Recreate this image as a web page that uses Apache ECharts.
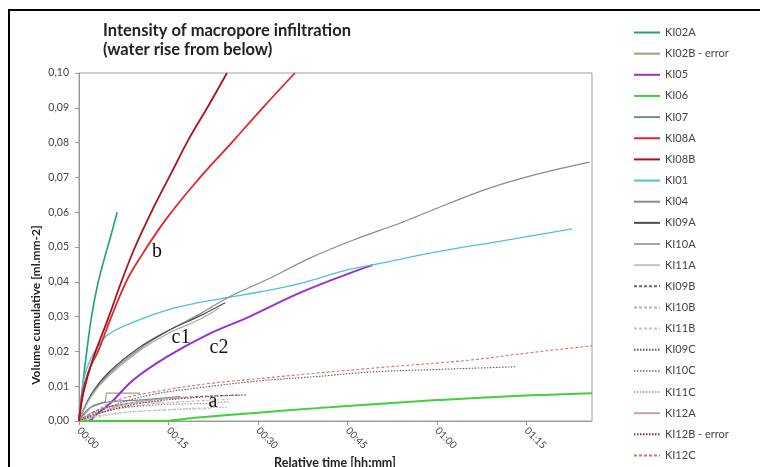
<!DOCTYPE html>
<html><head><meta charset="utf-8">
<script src="https://cdn.jsdelivr.net/npm/echarts@6/dist/echarts.min.js"></script>
<style>html,body{margin:0;padding:0;background:#fff}#c{width:760px;height:467px}</style>
</head><body><div id="c"></div>
<script>
// time in minutes, volume in ml.mm-2
const xTickLabels = ['00:00','00:15','00:30','00:45','01:00','01:15'];
const seriesNames = ['KI02A','KI02B - error','KI05','KI06','KI07','KI08A','KI08B','KI01','KI04','KI09A','KI10A','KI11A','KI09B','KI10B','KI11B','KI09C','KI10C','KI11C','KI12A','KI12B - error','KI12C'];

const KI02A = [[0,0],[0.6,0.010],[1.3,0.020],[2.1,0.030],[3.1,0.039],[4.3,0.047],[5.3,0.053],[6.4,0.060]];
const KI02B = [[0,0],[1,0.002],[2,0.004],[4.4,0.0055],[4.6,0.008],[10.2,0.008]];
const KI05 = [[0,0],[1.5,0],[3,0.002],[5.2,0.005],[9.1,0.0118],[14.7,0.0184],[21.4,0.0247],[28.6,0.030],[37,0.0368],[45.4,0.0425],[49.2,0.0448]];
const KI06 = [[0,0],[13,0],[20,0.001],[30,0.0024],[40,0.0037],[50,0.0049],[60,0.006],[73,0.0072],[86,0.008]];
const KI07 = [[0,0],[2,0.004],[5,0.0055],[10,0.006],[17,0.007]];
const KI08A = [[0,0],[0.5,0.007],[1,0.011],[2,0.016],[3.2,0.020],[5.2,0.029],[7.9,0.040],[9.9,0.046],[14.6,0.058],[20.3,0.070],[25.6,0.080],[30.8,0.090],[36.2,0.100]];
const KI08B = [[0,0],[0.5,0.006],[1,0.010],[2,0.016],[3,0.021],[5,0.030],[7.1,0.040],[9.4,0.050],[12.4,0.061],[15.4,0.071],[18.4,0.081],[21.5,0.090],[24.8,0.100]];
const KI01 = [[0,0],[0.5,0.009],[1,0.0135],[2,0.018],[3,0.021],[5,0.025],[10,0.029],[15,0.032],[20,0.034],[25,0.0355],[30,0.037],[37,0.0395],[45,0.0434],[52,0.0458],[60,0.0486],[70,0.0515],[82.7,0.0552]];
const KI04 = [[0,0],[2,0.007],[5,0.0135],[10,0.0205],[15,0.026],[20,0.0305],[25,0.0355],[32,0.041],[38.7,0.0468],[46,0.052],[54.3,0.0572],[62,0.0625],[69.3,0.0672],[77,0.071],[85.6,0.0744]];
const KI09A = [[0,0],[2,0.0075],[5,0.014],[10,0.021],[15,0.026],[20,0.030],[24.5,0.034]];
const KI10A = [[0,0],[2,0.007],[5,0.013],[10,0.020],[15,0.0252],[20,0.029],[23.5,0.0325]];
const KI11A = [[0,0],[3,0.003],[8,0.005],[14,0.0055]];
const KI09B = [[0,0],[3,0.003],[8,0.005],[15,0.0065],[27,0.0075]];
const KI10B = [[0,0],[5,0.003],[10,0.0045],[17,0.0055],[25,0.0062]];
const KI11B = [[0,0],[5,0.002],[12,0.003],[22,0.0035]];
const KI09C = [[0,0],[5,0.004],[12,0.0075],[20,0.0095],[30,0.0115],[40,0.0128],[49,0.0141],[60,0.0148],[73.4,0.0156]];
const KI10C = [[0,0],[5,0.003],[12,0.0045],[20,0.005],[25.3,0.0055]];
const KI11C = [[0,0],[6,0.002],[14,0.0032],[25,0.004]];
const KI12A = [[0,0],[2,0.001],[6,0.004],[12,0.006],[18,0.0068]];
const KI12B = [[0,0],[3,0.002],[10,0.005],[20,0.0068],[28,0.0075]];
const KI12C = [[0,0],[3,0.003],[6.4,0.006],[14.7,0.009],[22,0.0108],[31.5,0.0124],[40,0.0138],[50,0.0153],[65.5,0.0175],[75,0.0195],[86,0.0216]];

const seriesData = [KI02A,KI02B,KI05,KI06,KI07,KI08A,KI08B,KI01,KI04,KI09A,KI10A,KI11A,KI09B,KI10B,KI11B,KI09C,KI10C,KI11C,KI12A,KI12B,KI12C];
const styles = [
  {c:'#1fa36a',w:1.6,t:'solid'},
  {c:'#a39c84',w:1.2,t:'solid',step:true},
  {c:'#9a2fd6',w:2,t:'solid'},
  {c:'#3dd23d',w:2,t:'solid'},
  {c:'#6f8e93',w:1.2,t:'solid'},
  {c:'#e0252b',w:1.8,t:'solid'},
  {c:'#a8121e',w:1.8,t:'solid'},
  {c:'#4fc3d6',w:1.3,t:'solid'},
  {c:'#8a8a8a',w:1.2,t:'solid'},
  {c:'#4d4d4d',w:1.2,t:'solid'},
  {c:'#a8a8a8',w:1.2,t:'solid'},
  {c:'#c4c4c4',w:1.2,t:'solid'},
  {c:'#6e6e6e',w:1.1,t:[3,2]},
  {c:'#b4b4b4',w:1.1,t:[3,2]},
  {c:'#c6c6c6',w:1.1,t:[3,2]},
  {c:'#5c5c5c',w:1.1,t:[1.5,1.5]},
  {c:'#8c8c8c',w:1.1,t:[1.5,1.5]},
  {c:'#b0b0b0',w:1.1,t:[1.5,1.5]},
  {c:'#cf9ea6',w:1.2,t:'solid'},
  {c:'#8e3340',w:1.1,t:[1.5,1.5]},
  {c:'#d4766a',w:1.1,t:[3,2]}
];

const series = seriesNames.map((n,i)=>({
  name:n, type:'line', data:seriesData[i], showSymbol:false, symbol:'none',
  smooth: styles[i].step ? false : 0.4,
  lineStyle:{color:styles[i].c, width:styles[i].w, type:styles[i].t},
  itemStyle:{color:styles[i].c},
  z: (n==='KI08A'||n==='KI08B') ? 5 : 2,
  animation:false
}));

const chart = echarts.init(document.getElementById('c'));
chart.setOption({
  animation:false,
  backgroundColor:'#fff',
  title:{text:'Intensity of macropore infiltration\n(water rise from below)', left:98, top:16,
    textStyle:{fontFamily:'Lato', fontWeight:'bold', fontSize:16.5, color:'#222', lineHeight:19}},
  legend:{orient:'vertical', left:628, top:22, itemWidth:26, itemHeight:10, itemGap:10.15,
    itemStyle:{opacity:0},
    textStyle:{fontFamily:'Lato', fontSize:11, color:'#444'}, data:seriesNames},
  grid:{left:79, top:73, right:168, bottom:46, show:true, borderColor:'#a0a0a0', borderWidth:1},
  xAxis:{type:'value', min:0, max:86, interval:15,
    axisLine:{lineStyle:{color:'#999'}}, axisTick:{show:true, length:4, lineStyle:{color:'#999'}},
    splitLine:{show:false},
    axisLabel:{rotate:-45, fontFamily:'Lato', fontSize:10, color:'#444', margin:8, showMaxLabel:false,
      formatter:v=>xTickLabels[Math.round(v/15)] || ''}},
  yAxis:{type:'value', min:0, max:0.1, interval:0.01,
    axisLine:{show:true, lineStyle:{color:'#999'}}, axisTick:{show:true, length:4, lineStyle:{color:'#999'}},
    splitLine:{show:false},
    axisLabel:{fontFamily:'Lato', fontSize:10.5, color:'#444', margin:10,
      formatter:v=>v.toFixed(2).replace('.',',')}},
  graphic:[
    {type:'rect', shape:{x:9,y:10,width:800,height:500}, style:{fill:'none', stroke:'#000', lineWidth:2}, z:100},
    {type:'text', x:36, y:305, rotation:Math.PI/2, style:{text:'Volume cumulative [ml.mm-2]', fontFamily:'Lato', fontWeight:'bold', fontSize:12, fill:'#222', textAlign:'center', textVerticalAlign:'middle'}},
    {type:'text', x:335, y:463, style:{text:'Relative time [hh:mm]', fontFamily:'Lato', fontWeight:'bold', fontSize:12.5, fill:'#222', textAlign:'center', textVerticalAlign:'middle'}},
    {type:'text', x:157, y:252, style:{text:'b', fontFamily:'Liberation Serif', fontSize:20, fill:'#111', textAlign:'center', textVerticalAlign:'middle'}, z:50},
    {type:'text', x:181, y:338, style:{text:'c1', fontFamily:'Liberation Serif', fontSize:20, fill:'#111', textAlign:'center', textVerticalAlign:'middle'}, z:50},
    {type:'text', x:219, y:348, style:{text:'c2', fontFamily:'Liberation Serif', fontSize:20, fill:'#111', textAlign:'center', textVerticalAlign:'middle'}, z:50},
    {type:'text', x:213, y:402, style:{text:'a', fontFamily:'Liberation Serif', fontSize:20, fill:'#111', textAlign:'center', textVerticalAlign:'middle'}, z:50}
  ],
  series:series
});
</script></body></html>
